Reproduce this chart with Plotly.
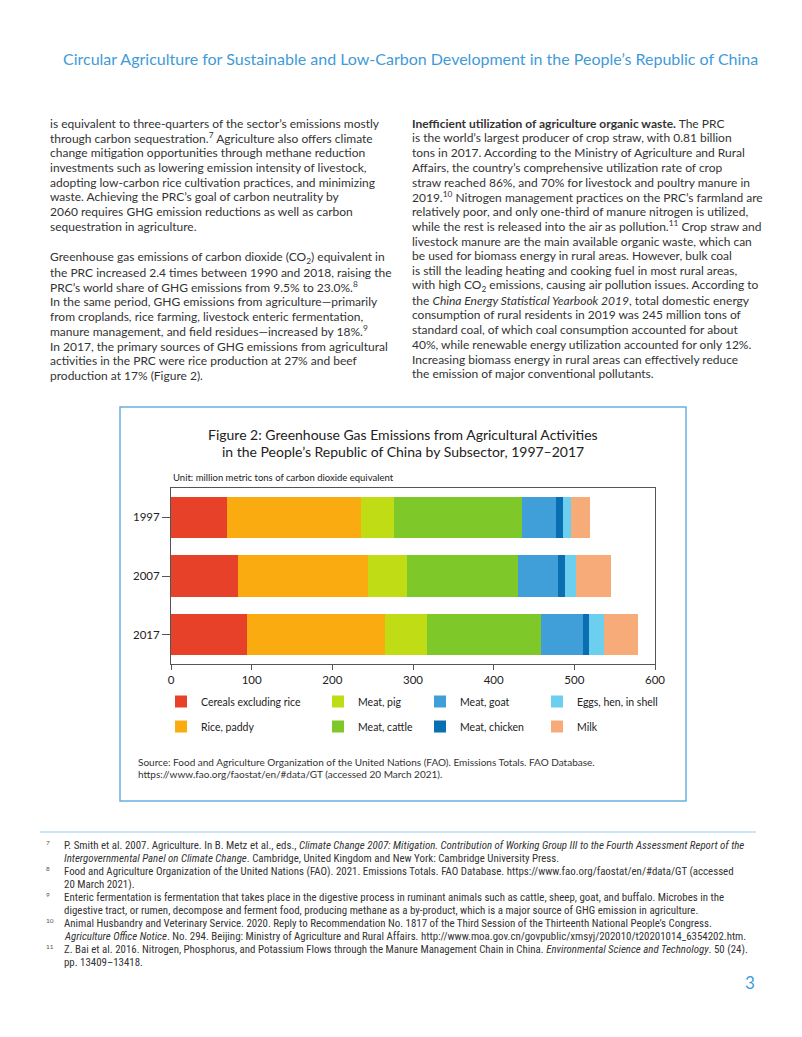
import plotly.graph_objects as go

# ---------------- data ----------------
years = ["1997", "2007", "2017"]
subsectors = ["Cereals excluding rice", "Rice, paddy", "Meat, pig", "Meat, cattle",
              "Meat, goat", "Meat, chicken", "Eggs, hen, in shell", "Milk"]
cereals = [69.4, 82.6, 93.8]
rice = [166.1, 161.6, 171.9]
pig = [41.4, 47.8, 51.8]
cattle = [158.6, 137.7, 141.1]
goat = [42.0, 49.9, 51.9]
chicken = [8.7, 8.9, 7.4]
eggs = [9.5, 13.6, 18.6]
milk = [23.1, 43.7, 42.5]
series = [cereals, rice, pig, cattle, goat, chicken, eggs, milk]
colors = ["#e8412a", "#f9ab10", "#c0dc14", "#7ec82a", "#409fd8", "#0a6fb0", "#6dcff0", "#f7ab78"]
legend_ids = ["legend", "legend", "legend2", "legend2", "legend3", "legend3", "legend4", "legend4"]
x_ticks = [0, 100, 200, 300, 400, 500, 600]

header = "Circular Agriculture for Sustainable and Low-Carbon Development in the People’s Republic of China"
fig_title = ["Figure 2: Greenhouse Gas Emissions from Agricultural Activities",
             "in the People’s Republic of China by Subsector, 1997–2017"]
unit_text = "Unit: million metric tons of carbon dioxide equivalent"
source_lines = ["Source: Food and Agriculture Organization of the United Nations (FAO). Emissions Totals. FAO Database.",
                "https://www.fao.org/faostat/en/#data/GT (accessed 20 March 2021)."]

left_par1 = [
    "is equivalent to three-quarters of the sector’s emissions mostly",
    "through carbon sequestration.<sup>7</sup> Agriculture also offers climate",
    "change mitigation opportunities through methane reduction",
    "investments such as lowering emission intensity of livestock,",
    "adopting low-carbon rice cultivation practices, and minimizing",
    "waste. Achieving the PRC’s goal of carbon neutrality by",
    "2060 requires GHG emission reductions as well as carbon",
    "sequestration in agriculture.",
]
left_par2 = [
    "Greenhouse gas emissions of carbon dioxide (CO<sub>2</sub>) equivalent in",
    "the PRC increased 2.4 times between 1990 and 2018, raising the",
    "PRC’s world share of GHG emissions from 9.5% to 23.0%.<sup>8</sup>",
    "In the same period, GHG emissions from agriculture—primarily",
    "from croplands, rice farming, livestock enteric fermentation,",
    "manure management, and field residues—increased by 18%.<sup>9</sup>",
    "In 2017, the primary sources of GHG emissions from agricultural",
    "activities in the PRC were rice production at 27% and beef",
    "production at 17% (Figure 2).",
]
right_col = [
    "<b>Inefficient utilization of agriculture organic waste.</b> The PRC",
    "is the world’s largest producer of crop straw, with 0.81 billion",
    "tons in 2017. According to the Ministry of Agriculture and Rural",
    "Affairs, the country’s comprehensive utilization rate of crop",
    "straw reached 86%, and 70% for livestock and poultry manure in",
    "2019.<sup>10</sup> Nitrogen management practices on the PRC’s farmland are",
    "relatively poor, and only one-third of manure nitrogen is utilized,",
    "while the rest is released into the air as pollution.<sup>11</sup> Crop straw and",
    "livestock manure are the main available organic waste, which can",
    "be used for biomass energy in rural areas. However, bulk coal",
    "is still the leading heating and cooking fuel in most rural areas,",
    "with high CO<sub>2</sub> emissions, causing air pollution issues. According to",
    "the <i>China Energy Statistical Yearbook 2019</i>, total domestic energy",
    "consumption of rural residents in 2019 was 245 million tons of",
    "standard coal, of which coal consumption accounted for about",
    "40%, while renewable energy utilization accounted for only 12%.",
    "Increasing biomass energy in rural areas can effectively reduce",
    "the emission of major conventional pollutants.",
]
footnotes = [
    ("7", ["P. Smith et al. 2007. Agriculture. In B. Metz et al., eds., <i>Climate Change 2007: Mitigation. Contribution of Working Group III to the Fourth Assessment Report of the</i>",
           "<i>Intergovernmental Panel on Climate Change</i>. Cambridge, United Kingdom and New York: Cambridge University Press."]),
    ("8", ["Food and Agriculture Organization of the United Nations (FAO). 2021. Emissions Totals. FAO Database. https://www.fao.org/faostat/en/#data/GT (accessed",
           "20 March 2021)."]),
    ("9", ["Enteric fermentation is fermentation that takes place in the digestive process in ruminant animals such as cattle, sheep, goat, and buffalo. Microbes in the",
           "digestive tract, or rumen, decompose and ferment food, producing methane as a by-product, which is a major source of GHG emission in agriculture."]),
    ("10", ["Animal Husbandry and Veterinary Service. 2020. Reply to Recommendation No. 1817 of the Third Session of the Thirteenth National People’s Congress.",
            "<i>Agriculture Office Notice</i>. No. 294. Beijing: Ministry of Agriculture and Rural Affairs. http://www.moa.gov.cn/govpublic/xmsyj/202010/t20201014_6354202.htm."]),
    ("11", ["Z. Bai et al. 2016. Nitrogen, Phosphorus, and Potassium Flows through the Manure Management Chain in China. <i>Environmental Science and Technology</i>. 50 (24).",
            "pp. 13409–13418."]),
]
page_number = "3"

# ---------------- layout helpers ----------------
# The page body has an 8px default margin, so the figure is 16px smaller
# than the window and page coordinates are converted accordingly.
W, H = 802, 1037
OFF = 8
FW, FH = W - 2 * OFF, H - 2 * OFF
PL, PR, PT, PB = 171, 655, 488, 664  # plot area in page pixels


def px(x):
    return (x - PL) / (PR - PL)


def py(y):
    return (PB - y) / (PB - PT)


FONT = "Lato, 'Open Sans', sans-serif"
NARROW = "'Liberation Sans Narrow', 'Roboto Condensed', Lato, sans-serif"
TXT = "#333333"
BLUE = "#3f9bd7"

fig = go.Figure()
for name, vals, col, lg in zip(subsectors, series, colors, legend_ids):
    fig.add_trace(go.Bar(
        y=years, x=vals, name=name, orientation="h",
        marker=dict(color=col, line=dict(width=0)),
        legend=lg, legendgroup=name,
        hovertemplate="%{y}: %{x}<extra>" + name + "</extra>",
    ))

annotations = []


def add_text(x, y, text, size=12, color=TXT, family=FONT, xanchor="left"):
    annotations.append(dict(
        x=px(x), y=py(y), xref="paper", yref="paper", text=text, showarrow=False,
        xanchor=xanchor, yanchor="middle", align="left",
        font=dict(family=family, size=size, color=color),
    ))


add_text(410, 58, header, size=16, color=BLUE, xanchor="center")

step = 14.75
for i, line in enumerate(left_par1):
    add_text(48, 123 + i * step, line)
for i, line in enumerate(left_par2):
    add_text(48, 257.5 + i * step, line)
for i, line in enumerate(right_col):
    add_text(410, 123 + i * step, line)

add_text(403, 434, fig_title[0], size=14, color="#222222", xanchor="center")
add_text(403, 451, fig_title[1], size=14, color="#222222", xanchor="center")
add_text(171, 477, unit_text, size=9.5, color="#222222")
add_text(136, 762, source_lines[0], size=10, color="#333333")
add_text(136, 774, source_lines[1], size=10, color="#333333")

fy = 845
for num, lines in footnotes:
    add_text(44, fy - 3, num, size=6.5, color="#555555")
    for j, line in enumerate(lines):
        add_text(62, fy + j * 13, line, size=10.9, color="#333333", family=NARROW)
    fy += 26

add_text(750, 982, page_number, size=17, color=BLUE, xanchor="center")

shapes = [
    dict(type="rect", xref="paper", yref="paper", x0=px(120), x1=px(686), y0=py(407), y1=py(801),
         line=dict(color="#6aaee0", width=1.5), fillcolor="rgba(0,0,0,0)", layer="below"),
    dict(type="line", xref="paper", yref="paper", x0=px(40), x1=px(756), y0=py(832), y1=py(832),
         line=dict(color="#b8dcf0", width=1.5)),
]

leg_common = dict(orientation="v", xanchor="left", yanchor="top", bgcolor="rgba(0,0,0,0)",
                  borderwidth=0, font=dict(family=FONT, size=10.5, color="#222222"),
                  tracegroupgap=6, itemclick=False, itemdoubleclick=False)
leg_x = [161, 318, 420, 537]
legends = {}
for key, lx in zip(["legend", "legend2", "legend3", "legend4"], leg_x):
    legends[key] = dict(leg_common, x=px(lx), y=py(687))

fig.update_layout(
    width=FW, height=FH,
    margin=dict(l=PL - OFF, r=FW - (PR - OFF), t=PT - OFF, b=FH - (PB - OFF), pad=0),
    paper_bgcolor="white", plot_bgcolor="white",
    barmode="stack", bargap=0.29,
    showlegend=True,
    font=dict(family=FONT, color="#222222"),
    xaxis=dict(range=[0, 600], tickvals=x_ticks, ticks="outside", ticklen=5, tickcolor="#555555",
               showline=True, linecolor="#555555", linewidth=1, mirror=True, showgrid=False,
               zeroline=False, tickfont=dict(size=11.5, color="#222222"), fixedrange=True),
    yaxis=dict(categoryorder="array", categoryarray=years, autorange="reversed",
               ticks="outside", ticklen=8, tickcolor="#555555", showline=True, linecolor="#555555",
               linewidth=1, mirror=True, showgrid=False, tickfont=dict(size=11.5, color="#222222"),
               fixedrange=True),
    annotations=annotations,
    shapes=shapes,
    **legends,
)

fig.write_html("out.html")
